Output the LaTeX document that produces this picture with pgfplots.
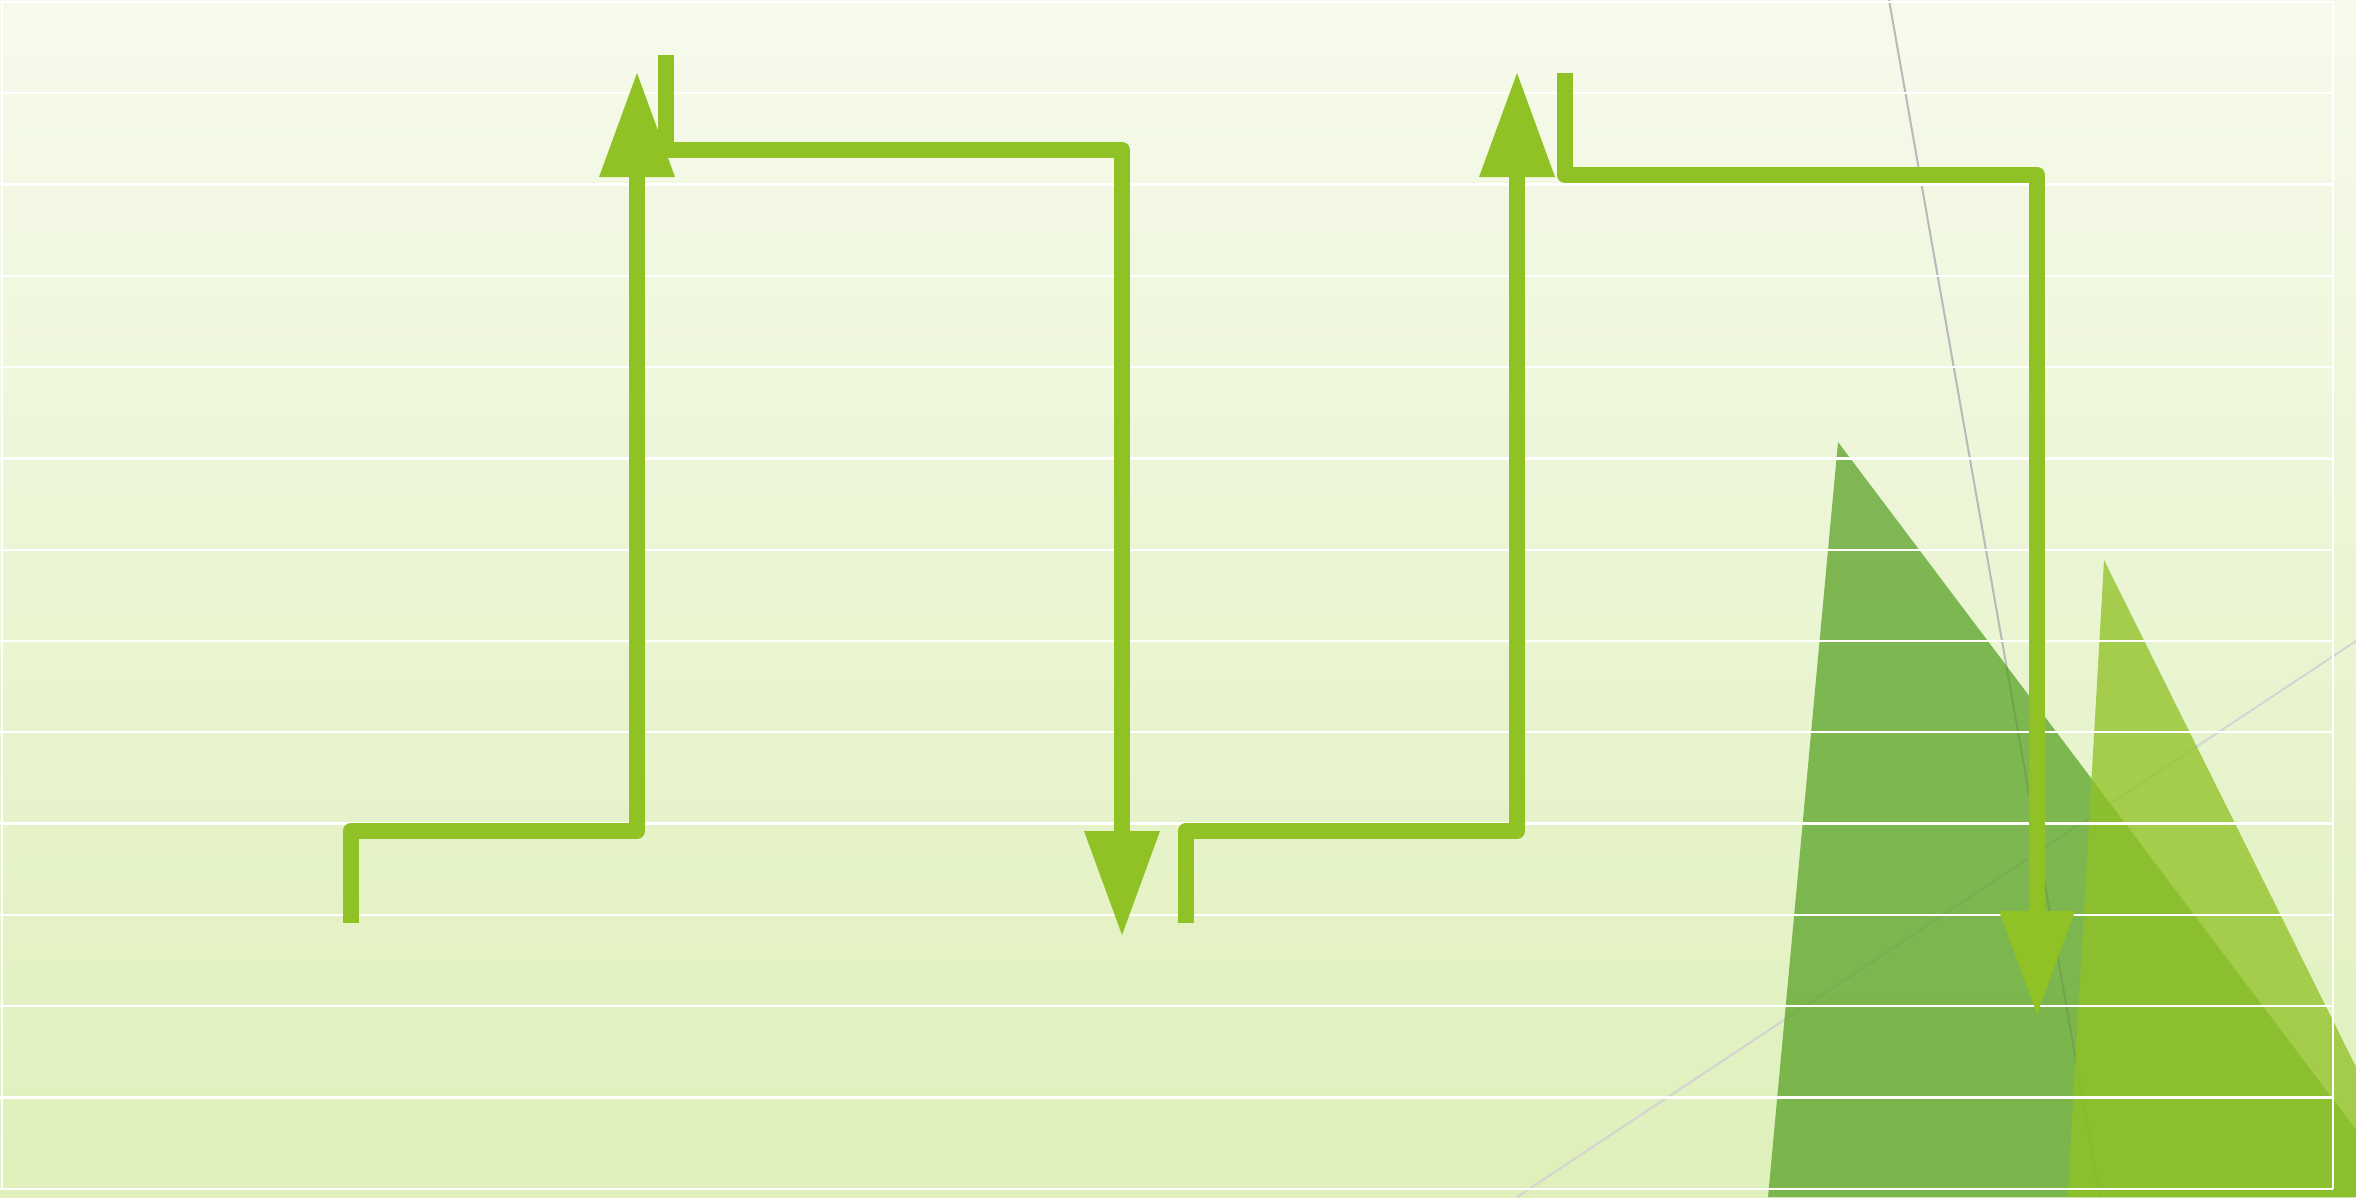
\documentclass[border=0pt]{standalone}
\usepackage{pgfplots}
\pgfplotsset{compat=1.18}
\definecolor{bgtop}{RGB}{246,250,236}
\definecolor{bgbot}{RGB}{223,240,186}
\definecolor{accA}{HTML}{90C226}
\definecolor{accB}{HTML}{54A021}
\definecolor{greyA}{RGB}{185,185,185}
\definecolor{greyB}{RGB}{212,212,212}
\begin{document}
\begin{tikzpicture}
\begin{axis}[
  width=23.56cm, height=11.97cm, scale only axis,
  xmin=0, xmax=2356, ymin=0, ymax=1197, y dir=reverse,
  hide axis, clip=true, no markers,
]
% background
\addplot[draw=none, top color=bgtop, bottom color=bgbot]
  coordinates {(0,0) (2356,0) (2356,1197) (0,1197)} -- cycle;
% thin grey diagonals
\addplot[greyA, line width=0.02cm] coordinates {(1889,0) (2100,1197)};
\addplot[greyB, line width=0.02cm] coordinates {(1517,1197) (2356,641)};
% triangles
\addplot[draw=none, fill=accB, fill opacity=0.72]
  coordinates {(1838,442) (2356,1130) (2356,1197) (1768,1197)} -- cycle;
\addplot[draw=none, fill=accA, fill opacity=0.77]
  coordinates {(2104,560) (2356,1067) (2356,1197) (2067.6,1197)} -- cycle;
% white grid frame
\pgfplotsinvokeforeach{2,93.3,184.6,275.8,367.1,458.4,549.7,641.0,732.2,823.5,914.8,1006.1,1097.4,1188.7}{
  \addplot[white, line width=0.023cm] coordinates {(0,#1) (2333,#1)};
}
\addplot[white, line width=0.023cm] coordinates {(2,2) (2,1188.7)};
\addplot[white, line width=0.023cm] coordinates {(2333,2) (2333,1188.7)};
% arrows
\addplot[accA, line width=0.16cm, line join=round] coordinates {(350.7,922.7) (350.7,831) (637,831) (637,170)};
\addplot[draw=none, fill=accA] coordinates {(599,177) (675,177) (637,73)} -- cycle;
\addplot[accA, line width=0.16cm, line join=round] coordinates {(666,55) (666,150) (1122,150) (1122,840)};
\addplot[draw=none, fill=accA] coordinates {(1084,831) (1160,831) (1122,935)} -- cycle;
\addplot[accA, line width=0.16cm, line join=round] coordinates {(1185.5,922.7) (1185.5,831) (1517,831) (1517,170)};
\addplot[draw=none, fill=accA] coordinates {(1479,177) (1555,177) (1517,73)} -- cycle;
\addplot[accA, line width=0.16cm, line join=round] coordinates {(1564.5,73.3) (1564.5,174.5) (2037,174.5) (2037,920)};
\addplot[draw=none, fill=accA] coordinates {(1999,911) (2075,911) (2037,1014)} -- cycle;
\end{axis}
\end{tikzpicture}
\end{document}
